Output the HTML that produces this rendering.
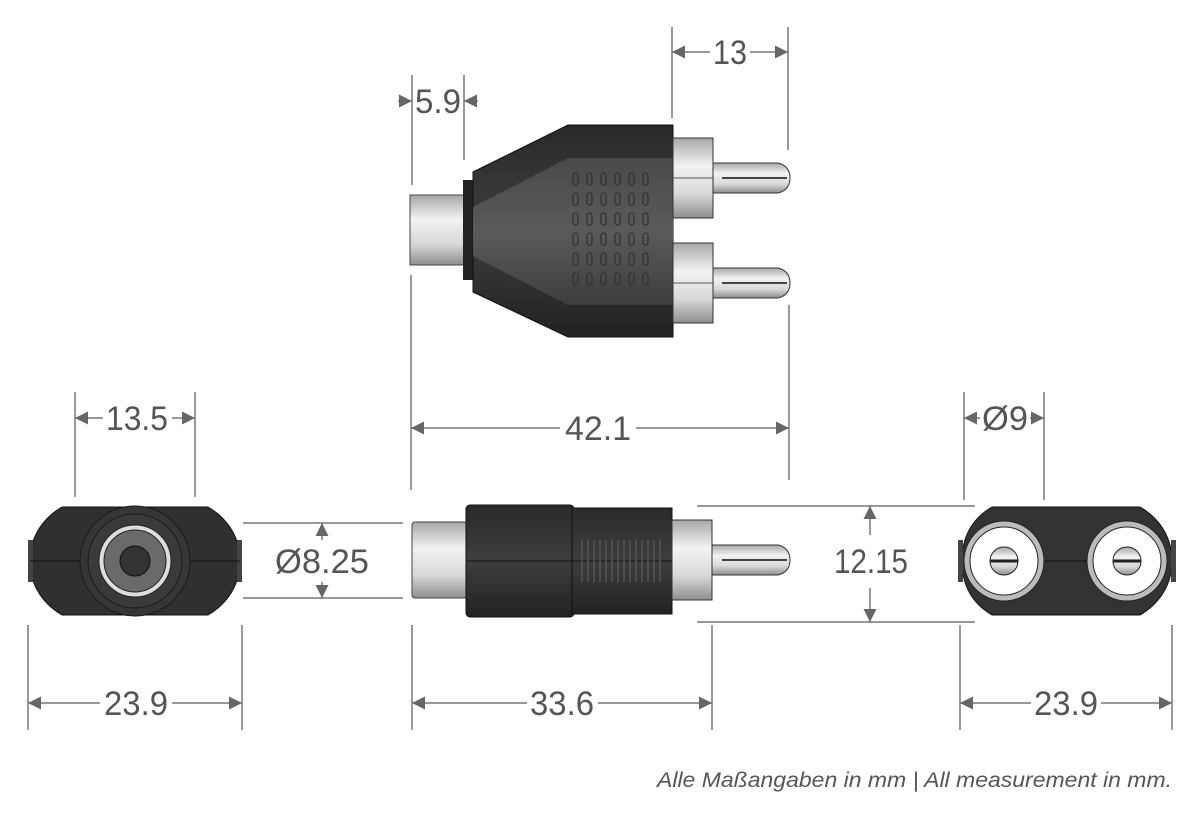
<!DOCTYPE html>
<html><head><meta charset="utf-8"><style>
html,body{margin:0;padding:0;background:#fff;}
svg{display:block;}
text{font-family:"Liberation Sans",sans-serif;fill:#555;}
</style></head><body>
<svg width="1200" height="819" viewBox="0 0 1200 819" xmlns="http://www.w3.org/2000/svg">
<defs>
<linearGradient id="silv" x1="0" y1="0" x2="0" y2="1">
<stop offset="0" stop-color="#a8a8a8"/><stop offset="0.35" stop-color="#f2f2f2"/><stop offset="0.7" stop-color="#d8d8d8"/><stop offset="1" stop-color="#8e8e8e"/></linearGradient>
<linearGradient id="blk" x1="0" y1="0" x2="0" y2="1">
<stop offset="0" stop-color="#2a2a2a"/><stop offset="0.5" stop-color="#3e3e3e"/><stop offset="1" stop-color="#222"/></linearGradient>
<linearGradient id="gry" x1="0" y1="0" x2="0" y2="1">
<stop offset="0" stop-color="#4a4a4a"/><stop offset="0.5" stop-color="#5a5a5a"/><stop offset="1" stop-color="#3e3e3e"/></linearGradient>
<marker id="a" viewBox="0 0 10 10" refX="10" refY="5" markerWidth="13" markerHeight="13" markerUnits="userSpaceOnUse" orient="auto-start-reverse"><path d="M0,0 L10,5 L0,10 z" fill="#666"/></marker>
</defs>

<!-- ===== TOP VIEW ===== -->
<rect x="410" y="195" width="56" height="70" fill="url(#silv)" stroke="#444" stroke-width="1"/>
<rect x="463" y="180" width="12" height="100" fill="#222"/>
<polygon points="473,172 568,125 673,125 673,337 568,337 473,292" fill="url(#blk)" stroke="#111"/>
<polygon points="473,207 568,158 673,158 673,305 568,305 473,256" fill="url(#gry)"/>
<g fill="none" stroke="#333" stroke-width="1.3">
<g id="row">
<rect x="573" y="173" width="5" height="12" rx="2.5"/><rect x="587" y="173" width="5" height="12" rx="2.5"/><rect x="601" y="173" width="5" height="12" rx="2.5"/><rect x="615" y="173" width="5" height="12" rx="2.5"/><rect x="629" y="173" width="5" height="12" rx="2.5"/><rect x="643" y="173" width="5" height="12" rx="2.5"/>
</g>
<use href="#row" y="20"/><use href="#row" y="40"/><use href="#row" y="60"/><use href="#row" y="80"/><use href="#row" y="100"/>
</g>
<rect x="673" y="138" width="40" height="80" fill="url(#silv)" stroke="#333"/>
<line x1="673" y1="178" x2="713" y2="178" stroke="#555"/>
<path d="M713,163 H778 Q790,166 790,178 Q790,190 778,193 H713 z" fill="url(#silv)" stroke="#333"/>
<line x1="722" y1="178" x2="787" y2="178" stroke="#444" stroke-width="2"/>
<rect x="673" y="243" width="40" height="80" fill="url(#silv)" stroke="#333"/>
<line x1="673" y1="283" x2="713" y2="283" stroke="#555"/>
<path d="M713,268 H778 Q790,271 790,283 Q790,295 778,298 H713 z" fill="url(#silv)" stroke="#333"/>
<line x1="722" y1="283" x2="787" y2="283" stroke="#444" stroke-width="2"/>

<!-- ===== LEFT FRONT VIEW ===== -->
<path d="M62,507 H208 C230,520 240,540 240,561 C240,582 230,602 208,615 H62 C40,602 30,582 30,561 C30,540 40,520 62,507 z" fill="#303030" stroke="#111"/>
<rect x="28" y="540" width="5" height="42" fill="#444"/><rect x="237" y="540" width="5" height="42" fill="#444"/>
<line x1="30" y1="561" x2="240" y2="561" stroke="#111"/>
<circle cx="135" cy="561" r="55" fill="#363636" stroke="#1a1a1a"/>
<circle cx="135" cy="561" r="47" fill="#3a3a3a" stroke="#1a1a1a"/>
<circle cx="135" cy="561" r="36" fill="#ddd" stroke="#222"/>
<circle cx="135" cy="561" r="31" fill="#6a6a6a" stroke="#222"/>
<circle cx="135" cy="561" r="15" fill="#333" stroke="#111"/>

<!-- ===== MIDDLE SIDE VIEW ===== -->
<rect x="412" y="522" width="55" height="76" rx="3" fill="url(#silv)" stroke="#444"/>
<rect x="466" y="505" width="108" height="112" rx="4" fill="url(#blk)" stroke="#111"/>
<rect x="572" y="508" width="100" height="106" fill="url(#blk)" stroke="#111"/>
<line x1="466" y1="561" x2="672" y2="561" stroke="#111"/>
<g stroke="#555" stroke-width="1.5">
<line x1="582" y1="540" x2="582" y2="582"/><line x1="588" y1="540" x2="588" y2="582"/><line x1="594" y1="540" x2="594" y2="582"/><line x1="600" y1="540" x2="600" y2="582"/><line x1="606" y1="540" x2="606" y2="582"/><line x1="612" y1="540" x2="612" y2="582"/><line x1="618" y1="540" x2="618" y2="582"/><line x1="624" y1="540" x2="624" y2="582"/><line x1="630" y1="540" x2="630" y2="582"/><line x1="636" y1="540" x2="636" y2="582"/><line x1="642" y1="540" x2="642" y2="582"/><line x1="648" y1="540" x2="648" y2="582"/><line x1="654" y1="540" x2="654" y2="582"/><line x1="660" y1="540" x2="660" y2="582"/>
</g>
<rect x="672" y="520" width="40" height="80" fill="url(#silv)" stroke="#333"/>
<path d="M712,545 H778 Q790,548 790,560 Q790,572 778,575 H712 z" fill="url(#silv)" stroke="#333"/>
<line x1="722" y1="560" x2="787" y2="560" stroke="#444" stroke-width="2"/>

<!-- ===== RIGHT FRONT VIEW ===== -->
<path d="M992,507 H1140 C1162,520 1172,540 1172,561 C1172,582 1162,602 1140,615 H992 C970,602 962,582 962,561 C962,540 970,520 992,507 z" fill="#333" stroke="#111"/>
<rect x="958" y="540" width="5" height="42" fill="#444"/><rect x="1171" y="540" width="5" height="42" fill="#444"/>
<line x1="1004" y1="561" x2="1127" y2="561" stroke="#111"/>
<circle cx="1004" cy="561" r="40" fill="#bbb" stroke="#222"/>
<circle cx="1004" cy="561" r="34" fill="#fff" stroke="#222"/>
<circle cx="1004" cy="561" r="14" fill="url(#silv)" stroke="#222"/>
<line x1="990" y1="561" x2="1018" y2="561" stroke="#222" stroke-width="3"/>
<circle cx="1127" cy="561" r="40" fill="#bbb" stroke="#222"/>
<circle cx="1127" cy="561" r="34" fill="#fff" stroke="#222"/>
<circle cx="1127" cy="561" r="14" fill="url(#silv)" stroke="#222"/>
<line x1="1113" y1="561" x2="1141" y2="561" stroke="#222" stroke-width="3"/>

<!-- ===== DIMENSIONS ===== -->
<g stroke="#777" stroke-width="1.5" fill="none">
<line x1="412" y1="75" x2="412" y2="185"/><line x1="464" y1="75" x2="464" y2="160"/>
<line x1="398" y1="101" x2="412" y2="101" marker-end="url(#a)"/>
<line x1="478" y1="101" x2="464" y2="101" marker-end="url(#a)"/>
<line x1="672" y1="27" x2="672" y2="118"/><line x1="788" y1="27" x2="788" y2="150"/>
<line x1="710" y1="52" x2="672" y2="52" marker-end="url(#a)"/>
<line x1="750" y1="52" x2="788" y2="52" marker-end="url(#a)"/>
<line x1="411" y1="275" x2="411" y2="490"/><line x1="789" y1="305" x2="789" y2="480"/>
<line x1="560" y1="428" x2="411" y2="428" marker-end="url(#a)"/>
<line x1="636" y1="428" x2="789" y2="428" marker-end="url(#a)"/>
<line x1="75" y1="392" x2="75" y2="497"/><line x1="195" y1="392" x2="195" y2="497"/>
<line x1="103" y1="418" x2="75" y2="418" marker-end="url(#a)"/>
<line x1="172" y1="418" x2="195" y2="418" marker-end="url(#a)"/>
<line x1="243" y1="523" x2="403" y2="523"/><line x1="243" y1="598" x2="403" y2="598"/>
<line x1="322" y1="540" x2="322" y2="523" marker-end="url(#a)"/>
<line x1="322" y1="582" x2="322" y2="598" marker-end="url(#a)"/>
<line x1="697" y1="506" x2="975" y2="506"/><line x1="697" y1="622" x2="975" y2="622"/>
<line x1="870" y1="535" x2="870" y2="506" marker-end="url(#a)"/>
<line x1="870" y1="588" x2="870" y2="622" marker-end="url(#a)"/>
<line x1="964" y1="392" x2="964" y2="500"/><line x1="1044" y1="392" x2="1044" y2="500"/>
<line x1="980" y1="418" x2="964" y2="418" marker-end="url(#a)"/>
<line x1="1030" y1="418" x2="1044" y2="418" marker-end="url(#a)"/>
<line x1="28" y1="625" x2="28" y2="730"/><line x1="242" y1="625" x2="242" y2="730"/>
<line x1="100" y1="703" x2="28" y2="703" marker-end="url(#a)"/>
<line x1="172" y1="703" x2="242" y2="703" marker-end="url(#a)"/>
<line x1="412" y1="625" x2="412" y2="730"/><line x1="712" y1="625" x2="712" y2="730"/>
<line x1="527" y1="703" x2="412" y2="703" marker-end="url(#a)"/>
<line x1="598" y1="703" x2="712" y2="703" marker-end="url(#a)"/>
<line x1="960" y1="625" x2="960" y2="730"/><line x1="1172" y1="625" x2="1172" y2="730"/>
<line x1="1031" y1="703" x2="960" y2="703" marker-end="url(#a)"/>
<line x1="1101" y1="703" x2="1172" y2="703" marker-end="url(#a)"/>
</g>
<g font-size="34" text-anchor="middle">
<text x="438" y="113" textLength="46" lengthAdjust="spacingAndGlyphs">5.9</text>
<text x="730" y="64" textLength="34" lengthAdjust="spacingAndGlyphs">13</text>
<text x="598" y="440" textLength="66" lengthAdjust="spacingAndGlyphs">42.1</text>
<text x="137" y="430" textLength="62" lengthAdjust="spacingAndGlyphs">13.5</text>
<text x="322" y="573" textLength="94" lengthAdjust="spacingAndGlyphs">Ø8.25</text>
<text x="871" y="573" textLength="74" lengthAdjust="spacingAndGlyphs">12.15</text>
<text x="1005" y="430" textLength="46" lengthAdjust="spacingAndGlyphs">Ø9</text>
<text x="136" y="715" textLength="64" lengthAdjust="spacingAndGlyphs">23.9</text>
<text x="562" y="715" textLength="64" lengthAdjust="spacingAndGlyphs">33.6</text>
<text x="1066" y="715" textLength="64" lengthAdjust="spacingAndGlyphs">23.9</text>
</g>
<text x="657" y="787" font-size="21" font-style="italic" textLength="515" lengthAdjust="spacingAndGlyphs">Alle Maßangaben in mm | All measurement in mm.</text>
</svg>
</body></html>
